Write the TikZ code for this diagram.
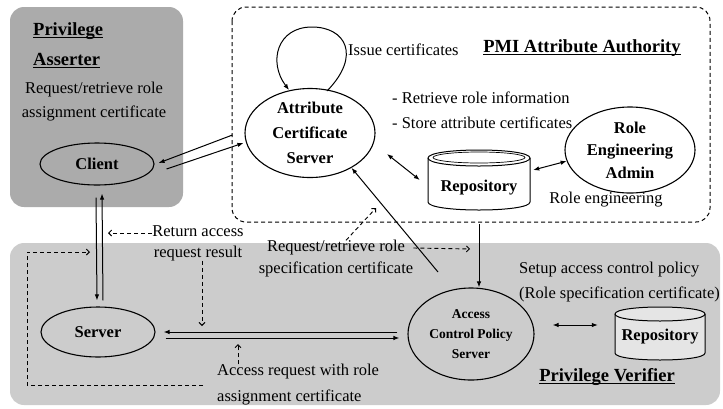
\documentclass[tikz,border=0pt]{standalone}
\usepackage{fontspec}
\setmainfont{Liberation Serif}
\usetikzlibrary{arrows.meta,shapes.geometric,calc}
\newcommand\myul[1]{\setbox0\hbox{#1}\rlap{\rule[-2.8pt]{\wd0}{1.3pt}}#1}
\begin{document}
\begin{tikzpicture}[x=1pt,y=-1pt,
  reg/.style={font=\fontsize{16.5}{#1}\selectfont, inner sep=0pt},
  reg/.default=25,
  ttl/.style={font=\bfseries\fontsize{18.5}{30}\selectfont, inner sep=0pt, align=left},
  ell/.style={draw, ellipse, line width=1.1pt, inner sep=0pt, align=center},
  bldf/.style={font=\bfseries\fontsize{16.5}{#1}\selectfont},
  bldf/.default=24,
  arr/.style={-{Latex[length=6pt,width=4.5pt]}, line width=1pt},
  dbl/.style={{Latex[length=6pt,width=4.5pt]}-{Latex[length=6pt,width=4.5pt]}, line width=1pt},
  dsh/.style={dash pattern=on 4pt off 3pt, line width=0.9pt, -{Straight Barb[length=3pt,width=6pt]}},
  boxd/.style={dash pattern=on 4pt off 3pt, line width=1pt, rounded corners=14pt},
  cyl/.style={line width=1pt, fill=#1},
  cyl/.default=white]
\useasboundingbox (0,0) rectangle (723,408);

% backgrounds
\fill[black!33, rounded corners=14pt] (10,7) rectangle (183,207);
\fill[black!20, rounded corners=14pt] (10,243) rectangle (720,405);
\draw[boxd] (232,7) rectangle (710,222);

% repository cylinders
\filldraw[cyl] (428,158) -- (428,202) .. controls (428,212.67) and (530,212.67) .. (530,202)
  -- (530,158) .. controls (530,147.33) and (428,147.33) .. (428,158) -- cycle;
\draw[line width=1pt] (428,158) .. controls (428,168.67) and (530,168.67) .. (530,158);
\draw[line width=0.7pt] (479,157.5) ellipse[x radius=46pt, y radius=5.5pt];
\filldraw[cyl=black!10] (615,314) -- (615,353) .. controls (615,362.33) and (705,362.33) .. (705,353)
  -- (705,314) .. controls (705,304.67) and (615,304.67) .. (615,314) -- cycle;
\draw[line width=1pt] (615,314) .. controls (615,323.33) and (705,323.33) .. (705,314);

% nodes
\node[ell, bldf, minimum width=114pt, minimum height=42pt] (client) at (97,164) {Client};
\node[ell, bldf, minimum width=114pt, minimum height=50pt] (server) at (98,332) {Server};
\node[ell, bldf=25, minimum width=130pt, minimum height=89pt] (acs) at (310,133) {Attribute\\Certificate\\Server};
\node[ell, bldf=22.5, minimum width=130pt, minimum height=86pt] (rea) at (630,150) {Role\\Engineering\\Admin};
\node[ell, font=\bfseries\fontsize{13.5}{20}\selectfont, minimum width=126pt, minimum height=92pt] (acp) at (471,334) {Access\\Control Policy\\Server};
\node[bldf, inner sep=0pt, minimum width=102pt, minimum height=44pt] (repo1) at (479,188) {Repository};
\node[bldf, inner sep=0pt, minimum width=90pt, minimum height=32pt] (repo2) at (660,337) {Repository};

% texts
\node[ttl, anchor=west] (pa) at (33,45) {\myul{Privilege}\\\myul{Asserter}};
\node[reg=24, align=center] (pareq) at (94,102) {Request/retrieve role\\assignment certificate};
\node[reg, anchor=west] (issue) at (348,50) {Issue certificates};
\node[ttl] (pmi) at (582,48) {\myul{PMI Attribute Authority}};
\node[reg, align=left, anchor=west] (retr) at (392,110) {- Retrieve role information\\- Store attribute certificates};
\node[reg] (roleeng) at (606,200) {Role engineering};
\node[reg=21, align=center] (retlbl) at (198,243) {Return access\\request result};
\node[reg=22, align=center] (reqlbl) at (336,259) {Request/retrieve role\\specification certificate};
\node[reg=26, align=left, anchor=west] (acclbl) at (217,385) {Access request with role\\assignment certificate};
\node[reg, align=left, anchor=west] (setup) at (519,282) {Setup access control policy\\(Role specification certificate)};
\node[ttl] (pv) at (607,377) {\myul{Privilege Verifier}};

% connectors
\draw[arr] ([shift={(-12,2)}]acs.west) -- ([shift={(4,-1)}]client.east);
\draw[arr] ([shift={(12,5)}]client.east) -- ([shift={(-1,10)}]acs.west);
\draw[arr] ([shift={(-1,12)}]client.south) -- ([shift={(-1,-6)}]server.north);
\draw[arr] ([shift={(5,-6)}]server.north) -- ([shift={(5,8)}]client.south);
\draw[arr] ([shift={(-10,-2)}]acp.west) -- ([shift={(8,0)}]server.east);
\draw[arr] ([shift={(10,6)}]server.east) -- ([shift={(-8,4)}]acp.west);
\draw[arr] ([shift={(-33,-62)}]acp.center) -- (acs.-40);
\draw[arr] ([yshift=-14pt]repo1.south) -- (repo1.south |- acp.north);
\draw[dbl] ([shift={(77,21)}]acs.center) -- ([shift={(-8,-8)}]repo1.west);
\draw[dbl] ([shift={(3,-18)}]repo1.east) -- (rea.190);
\draw[dbl] ([shift={(18,-9)}]acp.east) -- ([shift={(-17,-12)}]repo2.west);
\draw[arr] ([shift={(17,-42)}]acs.center) .. controls (362,55) and (345,27) .. (312,27)
  .. controls (277,27) and (268,62) .. ([shift={(-21,-43)}]acs.center);

% dashed connectors
\coordinate (retL) at (108,233);
\coordinate (retD) at (202,326);
\coordinate (reqU) at (376,208);
\coordinate (reqR) at (470,249);
\coordinate (accU) at (238,344);
\draw[dsh] ([yshift=10pt]retlbl.west) -- (retL);
\draw[dsh] ([xshift=4pt]retlbl.south) -- (retD);
\draw[dsh] ([xshift=10pt]reqlbl.north) -- (reqU);
\draw[dsh] ([yshift=11pt]reqlbl.east) -- (reqR);
\draw[dsh] ([xshift=21pt]acclbl.north west) -- (accU);
\draw[dsh] ([xshift=-14pt]acclbl.west) -- (27,385) -- (27,252) -- (90,252);
\end{tikzpicture}
\end{document}
